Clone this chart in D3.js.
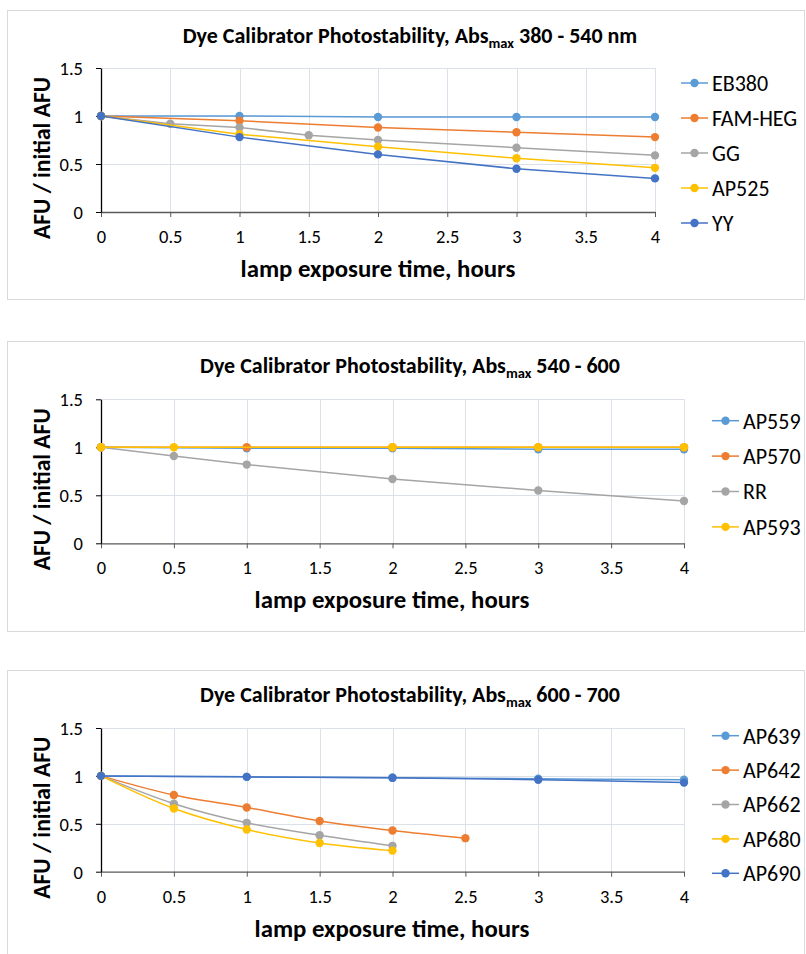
<!DOCTYPE html>
<html>
<head>
<meta charset="utf-8">
<script src="https://cdn.jsdelivr.net/npm/d3@7"></script>
<style>
  html, body { margin: 0; padding: 0; background: #fff; }
  svg { display: block; }
  text { font-family: Carlito, Calibri, Lato, "Open Sans", sans-serif; fill: #000; }
</style>
</head>
<body>
<svg id="chart" width="806" height="954"></svg>
<script>
// ---- Shared axis settings ----
const xTicks = [0, 0.5, 1, 1.5, 2, 2.5, 3, 3.5, 4];
const yTicks = [0, 0.5, 1, 1.5];
const xTitle = "lamp exposure time, hours";
const yTitle = "AFU / initial AFU";
const palette = ["#5B9BD5", "#ED7D31", "#A5A5A5", "#FFC000", "#4472C4"];

// ---- Panel 1: Abs max 380 - 540 nm ----
const p1Names = ["EB380", "FAM-HEG", "GG", "AP525", "YY"];
const p1Hours = [
  [0, 1, 2, 3, 4],
  [0, 1, 2, 3, 4],
  [0, 0.5, 1, 1.5, 2, 3, 4],
  [0, 1, 2, 3, 4],
  [0, 1, 2, 3, 4]
];
const p1Values = [
  [1, 1.0, 0.99, 0.99, 0.99],
  [1, 0.95, 0.88, 0.83, 0.78],
  [1, 0.92, 0.88, 0.80, 0.75, 0.67, 0.59],
  [1, 0.81, 0.68, 0.56, 0.46],
  [1, 0.78, 0.60, 0.45, 0.35]
];

// ---- Panel 2: Abs max 540 - 600 ----
const p2Names = ["AP559", "AP570", "RR", "AP593"];
const p2Hours = [
  [0, 1, 2, 3, 4],
  [0, 1, 2, 3, 4],
  [0, 0.5, 1, 2, 3, 4],
  [0, 0.5, 2, 3, 4]
];
const p2Values = [
  [1, 0.99, 0.99, 0.98, 0.98],
  [1, 1.0, 1.0, 1.0, 1.0],
  [1, 0.91, 0.82, 0.67, 0.55, 0.44],
  [1, 1.0, 1.0, 1.0, 1.0]
];

// ---- Panel 3: Abs max 600 - 700 ----
const p3Names = ["AP639", "AP642", "AP662", "AP680", "AP690"];
const p3Hours = [
  [0, 1, 2, 3, 4],
  [0, 0.5, 1, 1.5, 2, 2.5],
  [0, 0.5, 1, 1.5, 2],
  [0, 0.5, 1, 1.5, 2],
  [0, 1, 2, 3, 4]
];
const p3Values = [
  [1, 0.99, 0.98, 0.97, 0.96],
  [1, 0.80, 0.67, 0.53, 0.43, 0.35],
  [1, 0.71, 0.51, 0.38, 0.27],
  [1, 0.66, 0.44, 0.30, 0.22],
  [1, 0.99, 0.98, 0.96, 0.93]
];

const svg = d3.select("#chart");
const FONT = "Carlito, Calibri, Lato, sans-serif";

function drawPanel(cfg) {
  const g = svg.append("g");

  // outer chart frame
  g.append("rect")
    .attr("x", 7.5).attr("y", cfg.frameTop + 0.5)
    .attr("width", 797).attr("height", cfg.frameHeight)
    .attr("fill", "#fff").attr("stroke", "#D9D9D9").attr("stroke-width", 1);

  const x = d3.scaleLinear().domain([0, 4]).range([cfg.left, cfg.right]);
  const y = d3.scaleLinear().domain([0, 1.5]).range([cfg.bottom, cfg.top]);

  // gridlines
  g.append("g").selectAll("line.v").data(xTicks.slice(1)).join("line")
    .attr("x1", d => Math.round(x(d)) + 0.5).attr("x2", d => Math.round(x(d)) + 0.5)
    .attr("y1", cfg.top).attr("y2", cfg.bottom)
    .attr("stroke", "#DCE1E9").attr("stroke-width", 1);
  g.append("g").selectAll("line.h").data(yTicks.slice(1)).join("line")
    .attr("x1", cfg.left).attr("x2", cfg.right)
    .attr("y1", d => Math.round(y(d)) + 0.5).attr("y2", d => Math.round(y(d)) + 0.5)
    .attr("stroke", "#DCE1E9").attr("stroke-width", 1);

  // axes
  const xAxis = d3.axisBottom(x).tickValues(xTicks).tickSize(5).tickSizeOuter(0)
    .tickFormat(d3.format("~g"));
  const gx = g.append("g").attr("transform", `translate(0,${cfg.bottom})`).call(xAxis);
  gx.select(".domain").attr("stroke", "#595959").attr("stroke-width", 1.3);
  gx.selectAll(".tick line").attr("stroke", "#595959");
  gx.selectAll(".tick text").attr("dy", 0).attr("y", 31)
    .style("font-family", FONT).style("font-size", "18.5px");

  const yAxis = d3.axisLeft(y).tickValues(yTicks).tickSize(5).tickSizeOuter(0)
    .tickFormat(d3.format("~g"));
  const gy = g.append("g").attr("transform", `translate(${cfg.left},0)`).call(yAxis);
  gy.select(".domain").attr("stroke", "#000").attr("stroke-width", 1.3);
  gy.selectAll(".tick line").attr("stroke", "#000");
  gy.selectAll(".tick text").attr("x", -18).attr("dy", "0.35em")
    .style("font-family", FONT).style("font-size", "18.5px");

  // series
  const line = d3.line().x(d => x(d[0])).y(d => y(d[1])).curve(cfg.curve);
  cfg.names.forEach((name, i) => {
    const pts = cfg.hours[i].map((h, j) => [h, cfg.values[i][j]]);
    const color = cfg.colors[i];
    const sg = g.append("g");
    sg.append("path").datum(pts)
      .attr("d", line).attr("fill", "none")
      .attr("stroke", color).attr("stroke-width", 1.5);
    sg.selectAll("circle").data(pts).join("circle")
      .attr("cx", d => x(d[0])).attr("cy", d => y(d[1])).attr("r", 4.2)
      .attr("fill", color);
  });

  // title with subscript
  const t = g.append("text")
    .attr("x", 410).attr("y", cfg.titleY)
    .attr("text-anchor", "middle")
    .style("font-size", "22px").attr("font-weight", "bold");
  t.append("tspan").text("Dye Calibrator Photostability, Abs");
  t.append("tspan").style("font-size", "14.5px").attr("dy", 5).text("max");
  t.append("tspan").attr("dy", -5).text(" " + cfg.range);

  // axis titles
  g.append("text")
    .attr("x", cfg.xTitleX).attr("y", cfg.bottom + 65)
    .attr("text-anchor", "middle").style("font-size", "24.8px").attr("font-weight", "bold")
    .text(xTitle);
  g.append("text")
    .attr("transform", `translate(${50},${cfg.bottom - 54}) rotate(-90)`)
    .attr("text-anchor", "middle").style("font-size", "23.5px").attr("font-weight", "bold")
    .text(yTitle);

  // legend
  const lg = g.append("g").attr("transform", `translate(${cfg.legendX},${cfg.legendY})`);
  cfg.names.forEach((name, i) => {
    const row = lg.append("g").attr("transform", `translate(0,${i * cfg.legendStep})`);
    row.append("line").attr("x1", 0).attr("x2", 27).attr("y1", 0).attr("y2", 0)
      .attr("stroke", cfg.colors[i]).attr("stroke-width", 1.5);
    row.append("circle").attr("cx", 13.5).attr("cy", 0).attr("r", 4.2).attr("fill", cfg.colors[i]);
    row.append("text").attr("x", 31).attr("y", 0).attr("dy", "0.36em")
      .style("font-size", "22px").text(name);
  });
}

drawPanel({
  frameTop: 10, frameHeight: 289,
  left: 101, right: 655, top: 68, bottom: 212,
  titleY: 43, range: "380 - 540 nm", xTitleX: 378,
  names: p1Names, hours: p1Hours, values: p1Values, colors: palette,
  curve: d3.curveLinear,
  legendX: 681, legendY: 83, legendStep: 35
});

drawPanel({
  frameTop: 341, frameHeight: 290,
  left: 101, right: 684, top: 399.3, bottom: 543.3,
  titleY: 373, range: "540 - 600", xTitleX: 392,
  names: p2Names, hours: p2Hours, values: p2Values, colors: palette.slice(0, 4),
  curve: d3.curveLinear,
  legendX: 712, legendY: 420.7, legendStep: 35.4
});

drawPanel({
  frameTop: 670, frameHeight: 300,
  left: 101, right: 684, top: 728, bottom: 871.7,
  titleY: 702, range: "600 - 700", xTitleX: 392,
  names: p3Names, hours: p3Hours, values: p3Values, colors: palette,
  curve: d3.curveCatmullRom.alpha(0.5),
  legendX: 712, legendY: 735.7, legendStep: 34.4
});
</script>
</body>
</html>
